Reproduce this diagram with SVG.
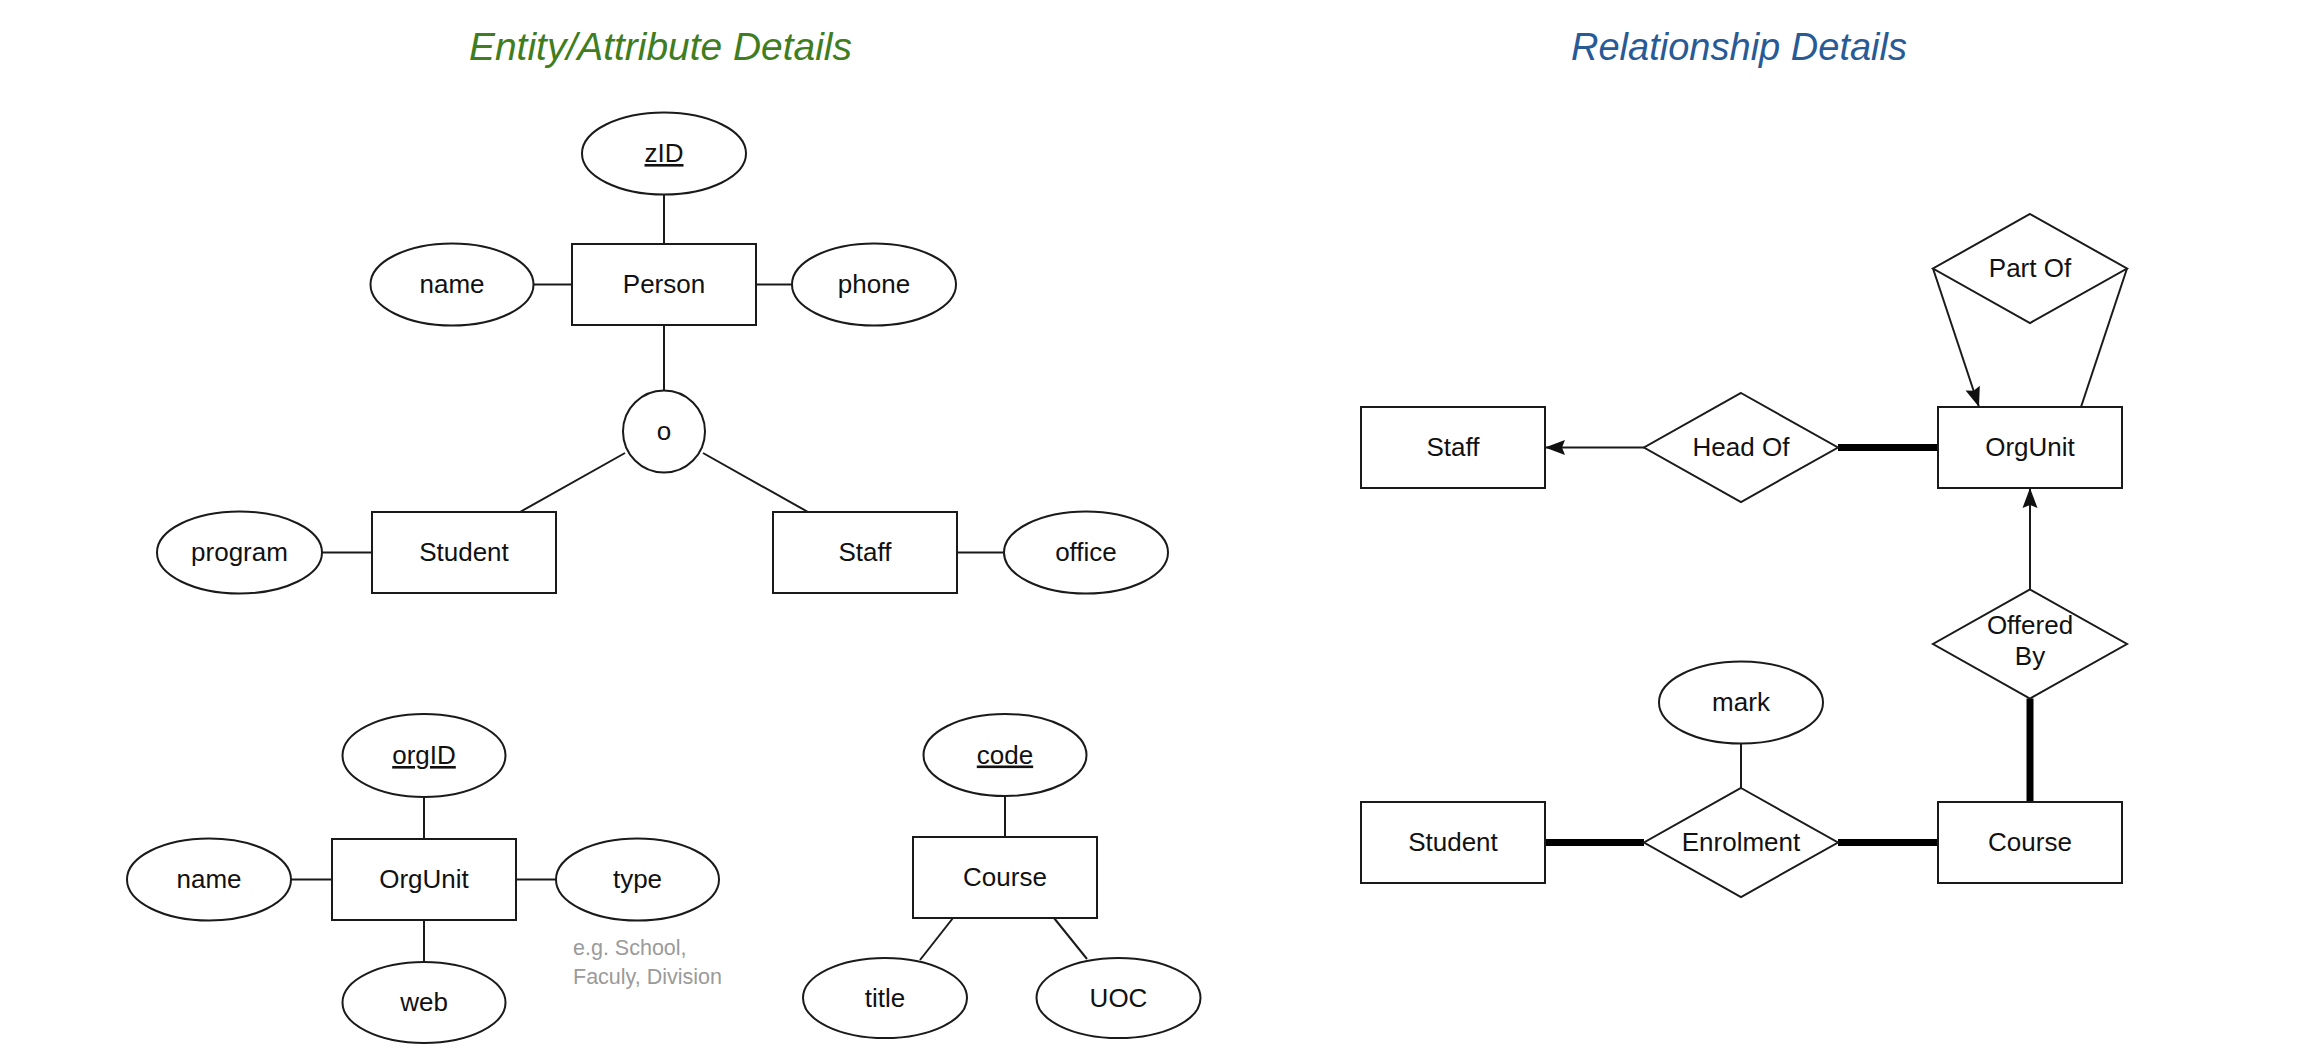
<svg xmlns="http://www.w3.org/2000/svg" width="2318" height="1061" viewBox="0 0 2318 1061">
<style>
  .bg { fill: #ffffff; }
  .ent { fill: #ffffff; stroke: #1a1a1a; stroke-width: 2; }
  .attr { fill: #ffffff; stroke: #1a1a1a; stroke-width: 2; }
  .rel { fill: #ffffff; stroke: #1a1a1a; stroke-width: 2; stroke-linejoin: miter; }
  .ln { stroke: #1a1a1a; stroke-width: 2; fill: none; }
  .thick { stroke: #000000; stroke-width: 7; fill: none; }
  .lbl { font-family: "Liberation Sans", Helvetica, Arial, sans-serif; font-size: 26px; fill: #111111; text-anchor: middle; }
  .key { text-decoration: underline; }
  .note { font-family: "Liberation Sans", Helvetica, Arial, sans-serif; font-size: 21.5px; fill: #9a9a9a; }
  .title { font-family: "Liberation Sans", Helvetica, Arial, sans-serif; font-size: 39px; font-style: italic; }
</style>
<defs>
  <marker id="arr" markerUnits="userSpaceOnUse" markerWidth="22" markerHeight="18" viewBox="0 0 22 18" refX="20" refY="9" orient="auto">
    <path d="M0,1.5 L20,9 L0,16.5 L3,9 Z" fill="#111111"/>
  </marker>
</defs>
<rect class="bg" x="0" y="0" width="2318" height="1061"/>

<text class="title" x="469" y="60" fill="#3f7d20" textLength="383" lengthAdjust="spacingAndGlyphs">Entity/Attribute Details</text>
<text class="title" x="1571" y="60" fill="#285a96" textLength="336" lengthAdjust="spacingAndGlyphs">Relationship Details</text>

<g id="connectors">
  <!-- Person cluster -->
  <line class="ln" x1="664" y1="194.5" x2="664" y2="244"/>
  <line class="ln" x1="533.5" y1="284.5" x2="572" y2="284.5"/>
  <line class="ln" x1="756" y1="284.5" x2="792" y2="284.5"/>
  <line class="ln" x1="664" y1="325" x2="664" y2="390.5"/>
  <line class="ln" x1="625" y1="453" x2="520" y2="512"/>
  <line class="ln" x1="703" y1="453" x2="808" y2="512"/>
  <line class="ln" x1="322" y1="552.5" x2="372" y2="552.5"/>
  <line class="ln" x1="957" y1="552.5" x2="1004" y2="552.5"/>
  <!-- OrgUnit cluster -->
  <line class="ln" x1="424" y1="797" x2="424" y2="839"/>
  <line class="ln" x1="291" y1="879.5" x2="332" y2="879.5"/>
  <line class="ln" x1="516" y1="879.5" x2="556" y2="879.5"/>
  <line class="ln" x1="424" y1="920" x2="424" y2="962"/>
  <!-- Course cluster -->
  <line class="ln" x1="1005" y1="796" x2="1005" y2="837"/>
  <line class="ln" x1="953" y1="918" x2="920" y2="960"/>
  <line class="ln" x1="1054" y1="918" x2="1087" y2="959"/>
  <!-- Relationship details -->
  <line class="ln" x1="1644" y1="447.5" x2="1545" y2="447.5" marker-end="url(#arr)"/>
  <line class="thick" x1="1838" y1="447.5" x2="1938" y2="447.5"/>
  <line class="ln" x1="1933" y1="268.5" x2="1979" y2="407" marker-end="url(#arr)"/>
  <line class="ln" x1="2127" y1="268.5" x2="2081" y2="407"/>
  <line class="ln" x1="2030" y1="589.5" x2="2030" y2="488" marker-end="url(#arr)"/>
  <line class="thick" x1="2030" y1="698.5" x2="2030" y2="802"/>
  <line class="thick" x1="1545" y1="842.5" x2="1644" y2="842.5"/>
  <line class="thick" x1="1838" y1="842.5" x2="1938" y2="842.5"/>
  <line class="ln" x1="1741" y1="743.5" x2="1741" y2="788"/>
</g>

<!-- Entity / Attribute details -->
<g id="zID"><ellipse class="attr" cx="664" cy="153.5" rx="82" ry="41"/><text class="lbl key" x="664" y="162">zID</text></g>
<g id="person"><rect class="ent" x="572" y="244" width="184" height="81"/><text class="lbl" x="664" y="293">Person</text></g>
<g id="person-name"><ellipse class="attr" cx="452" cy="284.5" rx="81.5" ry="41"/><text class="lbl" x="452" y="293">name</text></g>
<g id="phone"><ellipse class="attr" cx="874" cy="284.5" rx="82" ry="41"/><text class="lbl" x="874" y="293">phone</text></g>
<g id="overlap"><circle class="attr" cx="664" cy="431.5" r="41"/><text class="lbl" x="664" y="440">o</text></g>
<g id="student"><rect class="ent" x="372" y="512" width="184" height="81"/><text class="lbl" x="464" y="561">Student</text></g>
<g id="staff"><rect class="ent" x="773" y="512" width="184" height="81"/><text class="lbl" x="865" y="561">Staff</text></g>
<g id="program"><ellipse class="attr" cx="239.5" cy="552.5" rx="82.5" ry="41"/><text class="lbl" x="239.5" y="561">program</text></g>
<g id="office"><ellipse class="attr" cx="1086" cy="552.5" rx="82" ry="41"/><text class="lbl" x="1086" y="561">office</text></g>

<g id="orgID"><ellipse class="attr" cx="424" cy="755.5" rx="81.5" ry="41.5"/><text class="lbl key" x="424" y="764">orgID</text></g>
<g id="orgunit"><rect class="ent" x="332" y="839" width="184" height="81"/><text class="lbl" x="424" y="888">OrgUnit</text></g>
<g id="org-name"><ellipse class="attr" cx="209" cy="879.5" rx="82" ry="41"/><text class="lbl" x="209" y="888">name</text></g>
<g id="type"><ellipse class="attr" cx="637.5" cy="879.5" rx="81.5" ry="41"/><text class="lbl" x="637.5" y="888">type</text></g>
<g id="web"><ellipse class="attr" cx="424" cy="1002.5" rx="81.5" ry="40.5"/><text class="lbl" x="424" y="1011">web</text></g>
<g id="type-note"><text class="note" x="573" y="955">e.g. School,</text><text class="note" x="573" y="984">Faculy, Division</text></g>

<g id="code"><ellipse class="attr" cx="1005" cy="755" rx="81.5" ry="41"/><text class="lbl key" x="1005" y="763.5">code</text></g>
<g id="course"><rect class="ent" x="913" y="837" width="184" height="81"/><text class="lbl" x="1005" y="886">Course</text></g>
<g id="title"><ellipse class="attr" cx="885" cy="998" rx="82" ry="40"/><text class="lbl" x="885" y="1006.5">title</text></g>
<g id="uoc"><ellipse class="attr" cx="1118.5" cy="998" rx="82" ry="40"/><text class="lbl" x="1118.5" y="1006.5">UOC</text></g>

<!-- Relationship details -->
<g id="r-staff"><rect class="ent" x="1361" y="407" width="184" height="81"/><text class="lbl" x="1453" y="456">Staff</text></g>
<g id="r-headof"><polygon class="rel" points="1741,393 1838,447.5 1741,502 1644,447.5"/><text class="lbl" x="1741" y="456">Head Of</text></g>
<g id="r-orgunit"><rect class="ent" x="1938" y="407" width="184" height="81"/><text class="lbl" x="2030" y="456">OrgUnit</text></g>
<g id="r-partof"><polygon class="rel" points="2030,214 2127,268.5 2030,323 1933,268.5"/><text class="lbl" x="2030" y="277">Part Of</text></g>
<g id="r-offeredby"><polygon class="rel" points="2030,589.5 2127,644 2030,698.5 1933,644"/><text class="lbl" x="2030" y="634">Offered</text><text class="lbl" x="2030" y="665">By</text></g>
<g id="r-mark"><ellipse class="attr" cx="1741" cy="702.5" rx="82" ry="41"/><text class="lbl" x="1741" y="711">mark</text></g>
<g id="r-enrolment"><polygon class="rel" points="1741,788 1838,842.5 1741,897 1644,842.5"/><text class="lbl" x="1741" y="851">Enrolment</text></g>
<g id="r-student"><rect class="ent" x="1361" y="802" width="184" height="81"/><text class="lbl" x="1453" y="851">Student</text></g>
<g id="r-course"><rect class="ent" x="1938" y="802" width="184" height="81"/><text class="lbl" x="2030" y="851">Course</text></g>
</svg>
